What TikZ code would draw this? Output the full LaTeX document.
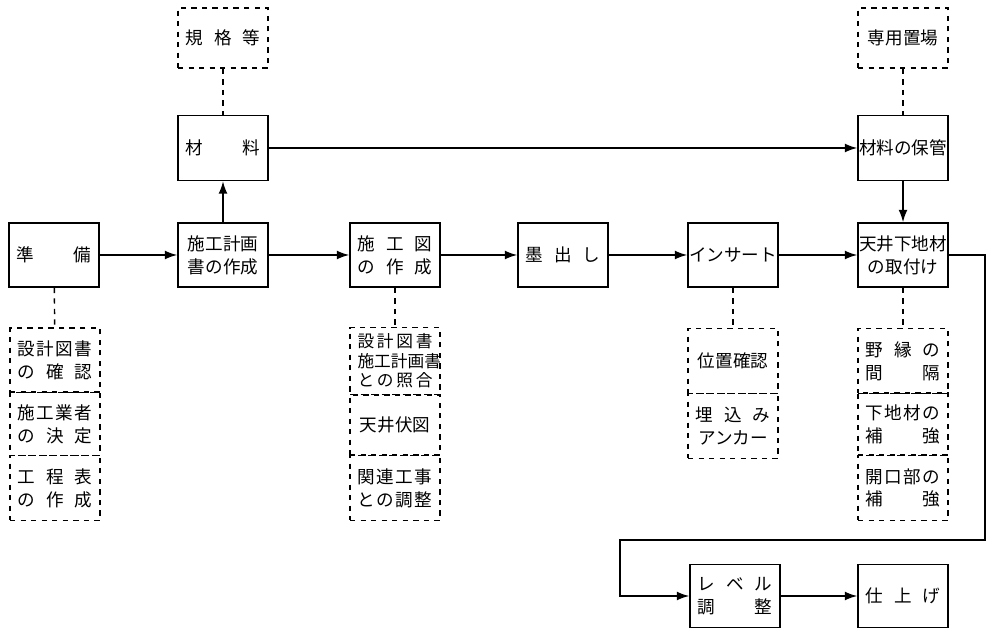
\documentclass[tikz,border=0pt]{standalone}
\usepackage{fontspec}
\setmainfont{Noto Sans CJK JP}
\usetikzlibrary{arrows.meta}
\newcommand{\J}[1]{\hbox to 1.5cm{#1}}
\newcommand{\F}{\hfill}
\begin{document}
\begin{tikzpicture}[x=0.02cm,y=-0.02cm,
  bx/.style={draw,line width=0.9pt,minimum width=1.8cm,minimum height=1.28cm,inner sep=0pt,font=\fontsize{10pt}{13pt}\selectfont,align=center},
  dbx/.style={draw,dashed,line width=0.9pt,minimum width=1.8cm,inner sep=0pt,font=\fontsize{10pt}{13pt}\selectfont,align=center},
  ar/.style={line width=0.8pt,-{Latex[length=7pt,width=5pt]}},
  ln/.style={line width=0.8pt},
  dt/.style={line width=0.8pt,dashed}]
\useasboundingbox (0,0) rectangle (1000,634);
% top dashed
\node[dbx,minimum height=1.2cm] (kikaku) at (223,38) {\J{規\F 格\F 等}};
\node[dbx,minimum height=1.2cm] (okiba) at (903,38) {専用置場};
% main
\node[bx,minimum height=1.3cm] (zai) at (223,148) {\J{材\F 料}};
\node[bx,minimum height=1.3cm] (hokan) at (903,148) {材料の保管};
\node[bx] (jun) at (54,255) {\J{準\F 備}};
\node[bx] (keikaku) at (223,255) {施工計画\\書の作成};
\node[bx] (sekou) at (395,255) {\J{施\F 工\F 図}\\\J{の\F 作\F 成}};
\node[bx] (sumi) at (563,255) {\J{墨\F 出\F し}};
\node[bx] (insert) at (733,255) {インサート};
\node[bx] (tenjo) at (903,255) {天井下地材\\の取付け};
\node[bx,minimum height=1.26cm] (level) at (735,596) {\J{レ\F ベ\F ル}\\\J{調\F\F 整}};
\node[bx,minimum height=1.26cm] (shiage) at (903,596) {\J{仕\F 上\F げ}};
% dashed stacks
\node[dbx,minimum height=1.28cm] (a1) at (55,360) {\J{設\F 計\F 図\F 書}\\\J{の\F 確\F 認}};
\node[dbx,minimum height=1.26cm] (a2) at (55,424) {\J{施\F 工\F 業\F 者}\\\J{の\F 決\F 定}};
\node[dbx,minimum height=1.30cm] (a3) at (55,488) {\J{工\F 程\F 表}\\\J{の\F 作\F 成}};
\node[dbx,minimum height=1.34cm,font=\fontsize{9.5pt}{11pt}\selectfont] (b1) at (395,361) {\J{設\F 計\F 図\F 書}\\\J{施工計画書}\\\J{と\F の\F 照\F 合}};
\node[dbx,minimum height=1.20cm] (b2) at (395,425) {天井伏図};
\node[dbx,minimum height=1.30cm] (b3) at (395,488) {\J{関\F 連\F 工\F 事}\\\J{と\F の\F 調\F 整}};
\node[dbx,minimum height=1.30cm] (c1) at (733,361) {位置確認};
\node[dbx,minimum height=1.30cm] (c2) at (733,426) {\J{埋\F 込\F み}\\アンカー};
\node[dbx,minimum height=1.30cm] (d1) at (903,361) {\J{野\F 縁\F の}\\\J{間\F\F 隔}};
\node[dbx,minimum height=1.24cm] (d2) at (903,424) {\J{下\F 地\F 材\F の}\\\J{補\F\F 強}};
\node[dbx,minimum height=1.30cm] (d3) at (903,488) {\J{開\F 口\F 部\F の}\\\J{補\F\F 強}};
% connectors
\draw[dt] (kikaku) -- (zai);
\draw[dt] (okiba) -- (hokan);
\draw[dt] (jun) -- (a1);
\draw[dt] (sekou) -- (b1);
\draw[dt] (insert) -- (c1);
\draw[dt] (tenjo) -- (d1);
\draw[ar] (jun) -- (keikaku);
\draw[ar] (keikaku) -- (zai);
\draw[ar] (keikaku) -- (sekou);
\draw[ar] (sekou) -- (sumi);
\draw[ar] (sumi) -- (insert);
\draw[ar] (insert) -- (tenjo);
\draw[ar] (zai) -- (hokan);
\draw[ar] (hokan) -- (tenjo);
\draw[ar] (tenjo.east) -- (985,255) -- (985,540) -- (620,540) -- (620,596) -- (level.west);
\draw[ar] (level) -- (shiage);
\end{tikzpicture}
\end{document}
